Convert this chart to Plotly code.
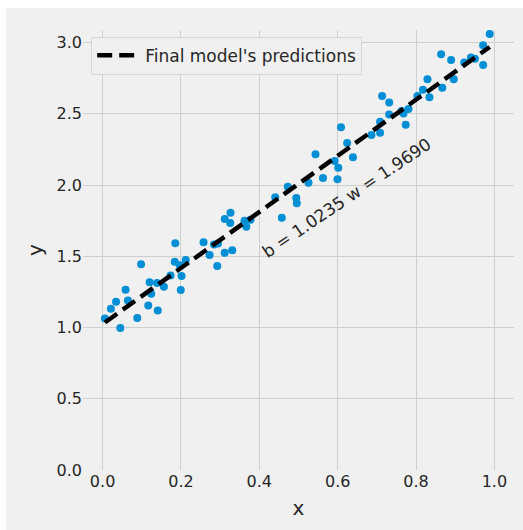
import plotly.graph_objects as go

# training points
x_train = [0.0059, 0.0212, 0.0344, 0.0452, 0.0587, 0.0645, 0.0885, 0.0982, 0.1166, 0.1199,
           0.1242, 0.1390, 0.1408, 0.1564, 0.1735, 0.1855, 0.1842, 0.1969, 0.2015, 0.1995,
           0.2122, 0.2577, 0.2730, 0.2844, 0.2946, 0.2926, 0.3117, 0.3309, 0.3117, 0.3265,
           0.3258, 0.3622, 0.3776, 0.3668, 0.4406, 0.4574, 0.4727, 0.4944, 0.4957, 0.5255,
           0.5434, 0.5625, 0.5923, 0.6015, 0.5995, 0.6084, 0.6242, 0.6390, 0.6862, 0.7082,
           0.7082, 0.7135, 0.7314, 0.7314, 0.7679, 0.7806, 0.7737, 0.7628, 0.8036, 0.8176,
           0.8291, 0.8342, 0.8640, 0.8668, 0.8895, 0.8962, 0.9230, 0.9401, 0.9503, 0.9714,
           0.9712, 0.9880]
y_train = [1.0632, 1.1319, 1.1811, 0.9965, 1.2653, 1.1895, 1.0667, 1.4435, 1.1544, 1.3179,
           1.2372, 1.3123, 1.1193, 1.2863, 1.3649, 1.5909, 1.4618, 1.4365, 1.3614, 1.2632,
           1.4737, 1.5979, 1.5088, 1.5825, 1.5895, 1.4316, 1.5242, 1.5418, 1.7614, 1.8056,
           1.7333, 1.7488, 1.7565, 1.7074, 1.9144, 1.7705, 1.9881, 1.9088, 1.8716, 2.0161,
           2.2161, 2.0491, 2.1684, 2.1214, 2.0407, 2.4049, 2.2947, 2.1944, 2.3509, 2.4442,
           2.3670, 2.6246, 2.5789, 2.4947, 2.5018, 2.5333, 2.4232, 2.5193, 2.6246, 2.6688,
           2.7425, 2.6154, 2.9172, 2.6828, 2.8772, 2.7425, 2.8596, 2.8947, 2.8856, 2.8421,
           2.9804, 3.0596]

# fitted parameters
b = 1.0235
w = 1.9690

x_line = [min(x_train), max(x_train)]
y_line = [b + w * v for v in x_line]

x_ticks = [0.0, 0.2, 0.4, 0.6, 0.8, 1.0]
y_ticks = [0.0, 0.5, 1.0, 1.5, 2.0, 2.5, 3.0]

FONT = "DejaVu Sans"
TXT = "#262626"
BG = "#f0f0f0"
GRID = "#cfcfcf"

fig = go.Figure()
fig.add_trace(go.Scatter(
    x=x_train, y=y_train, mode="markers",
    marker=dict(color="#008fd5", size=8, line=dict(width=0)),
    showlegend=False,
))
fig.add_trace(go.Scatter(
    x=x_line, y=y_line, mode="lines",
    line=dict(color="black", width=4.5, dash="15px,7px"),
    name="Final model's predictions",
))

fig.add_annotation(
    x=0.622, y=1.91, xref="x", yref="y",
    text=f"b = {b:.4f} w = {w:.4f}",
    showarrow=False, textangle=-34,
    font=dict(family=FONT, size=17, color=TXT),
)

# figure background panel
fig.add_shape(
    type="rect", xref="paper", yref="paper",
    x0=-0.179, x1=1.03, y0=-0.14, y1=1.05,
    fillcolor=BG, line=dict(width=0), layer="below",
)

fig.update_layout(
    width=523, height=530,
    margin=dict(l=83, r=9, t=30, b=60),
    paper_bgcolor="white", plot_bgcolor=BG,
    font=dict(family=FONT, size=16, color=TXT),
    legend=dict(
        x=0.019, y=0.985, xanchor="left", yanchor="top",
        bgcolor=BG, bordercolor="#d6d6d6", borderwidth=1,
        itemwidth=43,
        font=dict(family=FONT, size=17, color=TXT),
    ),
    xaxis=dict(
        range=[-0.05, 1.05], tickvals=x_ticks,
        ticktext=[f"{v:.1f}" for v in x_ticks],
        showgrid=True, gridcolor=GRID, gridwidth=1.3,
        zeroline=False, showline=False, ticks="",
        title=dict(text="x", font=dict(size=20), standoff=10),
    ),
    yaxis=dict(
        range=[0, 3.088], tickvals=y_ticks,
        ticktext=[f"{v:.1f}" for v in y_ticks],
        showgrid=True, gridcolor=GRID, gridwidth=1.3,
        zeroline=False, showline=False, ticks="",
        title=dict(text="y", font=dict(size=20), standoff=8),
    ),
)

fig.write_html("out.html")
